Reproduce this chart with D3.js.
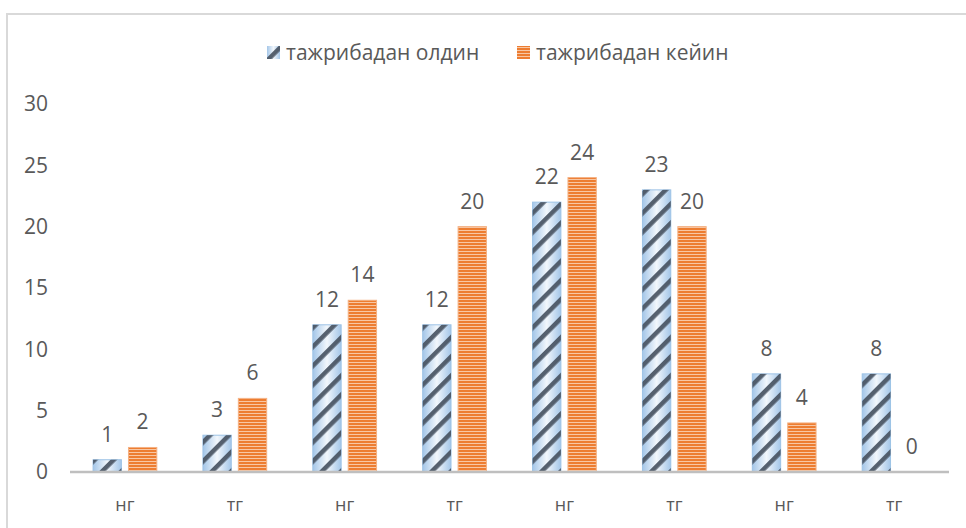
<!DOCTYPE html>
<html>
<head>
<meta charset="utf-8">
<script src="https://cdn.jsdelivr.net/npm/d3@7"></script>
<style>
  body { margin: 0; background: #fff; }
  svg text { font-family: "Open Sans", sans-serif; fill: #595959; }
</style>
</head>
<body>
<svg id="chart" width="966" height="528"></svg>
<script>
// categories along the x axis
const categories = ['нг', 'тг', 'нг', 'тг', 'нг', 'тг', 'нг', 'тг'];
// series
const seriesNames = ['тажрибадан олдин', 'тажрибадан кейин'];
const before = [1, 3, 12, 12, 22, 23, 8, 8];
const after = [2, 6, 14, 20, 24, 20, 4, 0];
const yTicks = [0, 5, 10, 15, 20, 25, 30];

const svg = d3.select('#chart');
const margin = {left: 70, right: 17, top: 104, bottom: 56};
const W = 966, H = 528;

// chart frame
svg.append('rect')
  .attr('x', 7).attr('y', 14)
  .attr('width', W).attr('height', H)
  .attr('fill', 'none')
  .attr('stroke', '#d9d9d9')
  .attr('stroke-width', 2);

const defs = svg.append('defs');

// blue: horizontal gradient with dark diagonal stripes on top
const grad = defs.append('linearGradient').attr('id', 'blueGrad')
  .attr('x1', 0).attr('x2', 1).attr('y1', 0).attr('y2', 0);
grad.append('stop').attr('offset', '0%').attr('stop-color', '#a4c6e8');
grad.append('stop').attr('offset', '50%').attr('stop-color', '#f2f7fc');
grad.append('stop').attr('offset', '100%').attr('stop-color', '#a4c6e8');

const stripes = defs.append('pattern').attr('id', 'blueStripes')
  .attr('patternUnits', 'userSpaceOnUse')
  .attr('width', 13.5).attr('height', 13.5)
  .attr('patternTransform', 'rotate(45)');
stripes.append('rect')
  .attr('x', 0).attr('y', 0).attr('width', 4.5).attr('height', 13.5)
  .attr('fill', '#465160')
  .attr('opacity', 0.9);

// orange: horizontal lines
const lines = defs.append('pattern').attr('id', 'orangeLines')
  .attr('patternUnits', 'userSpaceOnUse')
  .attr('width', 6).attr('height', 3);
lines.append('rect').attr('width', 6).attr('height', 3).attr('fill', '#ed7d31');
lines.append('rect').attr('y', 2).attr('width', 6).attr('height', 1).attr('fill', '#f8c7a4');

const x0 = d3.scaleBand()
  .domain(d3.range(categories.length))
  .range([margin.left, W - margin.right])
  .paddingInner(0.42)
  .paddingOuter(0.21);
const x1 = d3.scaleBand()
  .domain([0, 1])
  .range([0, x0.bandwidth()])
  .paddingInner(0.2);
const y = d3.scaleLinear()
  .domain([0, 30])
  .range([H - margin.bottom, margin.top]);

// y tick labels (no gridlines)
svg.append('g').selectAll('text').data(yTicks).join('text')
  .attr('x', 48)
  .attr('y', d => y(d))
  .attr('dy', '0.35em')
  .attr('text-anchor', 'end')
  .attr('font-size', 21)
  .text(d => d);

const rows = categories.map((c, i) => ({i, vals: [before[i], after[i]]}));

const groups = svg.append('g').selectAll('g').data(rows).join('g')
  .attr('transform', d => `translate(${x0(d.i)},0)`);

groups.each(function(d) {
  const g = d3.select(this);
  d.vals.forEach((v, s) => {
    const bx = x1(s), bw = x1.bandwidth();
    const top = y(v), h = y(0) - y(v);
    if (s === 0) {
      g.append('rect')
        .attr('x', bx).attr('y', top).attr('width', bw).attr('height', h)
        .attr('fill', 'url(#blueGrad)')
        .attr('stroke', '#9dc3e6').attr('stroke-width', 1);
      g.append('rect')
        .attr('x', bx).attr('y', top).attr('width', bw).attr('height', h)
        .attr('fill', 'url(#blueStripes)');
    } else {
      g.append('rect')
        .attr('x', bx).attr('y', top).attr('width', bw).attr('height', h)
        .attr('fill', 'url(#orangeLines)')
        .attr('stroke', '#f4b183').attr('stroke-width', h > 0 ? 1 : 0);
    }
    g.append('text')
      .attr('x', bx + bw / 2)
      .attr('y', top - 18)
      .attr('text-anchor', 'middle')
      .attr('font-size', 21)
      .text(v);
  });
});

// x axis line
svg.append('line')
  .attr('x1', margin.left).attr('x2', W - margin.right)
  .attr('y1', y(0)).attr('y2', y(0))
  .attr('stroke', '#bfbfbf').attr('stroke-width', 2.5);

// x labels
svg.append('g').selectAll('text').data(categories).join('text')
  .attr('x', (d, i) => x0(i) + x0.bandwidth() / 2)
  .attr('y', 511)
  .attr('text-anchor', 'middle')
  .attr('font-size', 18)
  .text(d => d);

// legend
const legend = svg.append('g');
const legendX = [267, 517];
seriesNames.forEach((name, s) => {
  legend.append('rect')
    .attr('x', legendX[s]).attr('y', 46)
    .attr('width', 13).attr('height', 13)
    .attr('fill', s === 0 ? 'url(#blueGrad)' : 'url(#orangeLines)');
  if (s === 0) {
    legend.append('rect')
      .attr('x', legendX[s]).attr('y', 46)
      .attr('width', 13).attr('height', 13)
      .attr('fill', 'url(#blueStripes)');
  }
  legend.append('text')
    .attr('x', legendX[s] + 19)
    .attr('y', 52.5)
    .attr('dy', '0.35em')
    .attr('font-size', 21)
    .text(name);
});
</script>
</body>
</html>
